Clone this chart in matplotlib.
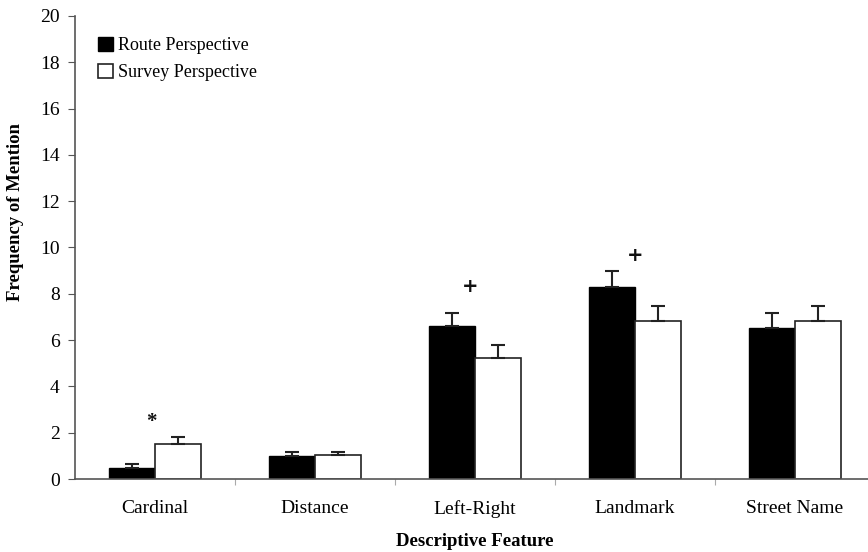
import numpy as np
import matplotlib
matplotlib.use('Agg')
import matplotlib.pyplot as plt

plt.rcParams['font.family'] = ['Liberation Serif', 'DejaVu Serif']

categories = ['Cardinal', 'Distance', 'Left-Right', 'Landmark', 'Street Name']
route_mean = [0.49, 0.99, 6.61, 8.31, 6.51]
route_err = [0.14, 0.18, 0.55, 0.66, 0.65]
survey_mean = [1.50, 1.04, 5.24, 6.82, 6.82]
survey_err = [0.33, 0.13, 0.55, 0.64, 0.64]
# significance markers: (category index, symbol, height)
marks = [(0, '*', 2.45), (2, '+', 8.3), (3, '+', 9.65)]

fig = plt.figure(figsize=(8.68, 5.52), dpi=100)
ax = fig.add_axes([75 / 868, 73 / 552, 800 / 868, 463 / 552])

x = np.arange(len(categories))
w = 0.29
ax.bar(x - w / 2, route_mean, w, color='black', edgecolor='black', lw=1,
       label='Route Perspective', zorder=2)
ax.bar(x + w / 2, survey_mean, w, color='white', edgecolor='#222222', lw=1.2,
       label='Survey Perspective', zorder=2)
ax.errorbar(x - w / 2, route_mean, yerr=[np.zeros(5), route_err], fmt='none',
            ecolor='#222222', elinewidth=1.5, capsize=5, capthick=1.5, zorder=3)
ax.errorbar(x + w / 2, survey_mean, yerr=[np.zeros(5), survey_err], fmt='none',
            ecolor='#222222', elinewidth=1.5, capsize=5, capthick=1.5, zorder=3)

for i, sym, h in marks:
    if sym == '+':
        ax.text(x[i] - 0.03 * (i == 2), h, sym, ha='center', va='center', fontsize=14,
                fontweight='bold', family='DejaVu Sans', color='#111111')
    else:
        ax.text(x[i] - 0.02, h, sym, ha='center', va='center', fontsize=15,
                fontweight='bold', color='#111111')

ax.set_xlim(-0.5, len(categories) - 0.5)
ax.set_ylim(0, 20)
ax.set_yticks(np.arange(0, 21, 2))
ax.set_xticks(x)
ax.set_xticklabels(categories)
ax.set_xticks(np.arange(0.5, len(categories) - 0.5, 1), minor=True)
ax.tick_params(axis='x', which='major', length=0, pad=15, labelsize=14)
ax.tick_params(axis='x', which='minor', length=4, color='#aaaaaa', width=0.8)
ax.tick_params(axis='y', length=5, width=0.8, color='#555555', pad=6, labelsize=14)

for s in ['top', 'right']:
    ax.spines[s].set_visible(False)
for s in ['left', 'bottom']:
    ax.spines[s].set_color('#555555')
    ax.spines[s].set_linewidth(1.2)

ax.set_xlabel('Descriptive Feature', fontsize=13.5, fontweight='bold', labelpad=11)
ax.set_ylabel('Frequency of Mention', fontsize=13.5, fontweight='bold')
ax.yaxis.set_label_coords(-0.064, 0.577)

ax.legend(loc='upper left', bbox_to_anchor=(0.02, 0.97), frameon=False, fontsize=13,
          handlelength=0.8, handleheight=0.8, handletextpad=0.3, labelspacing=0.55,
          borderaxespad=0)

fig.savefig('out.png', dpi=100)
